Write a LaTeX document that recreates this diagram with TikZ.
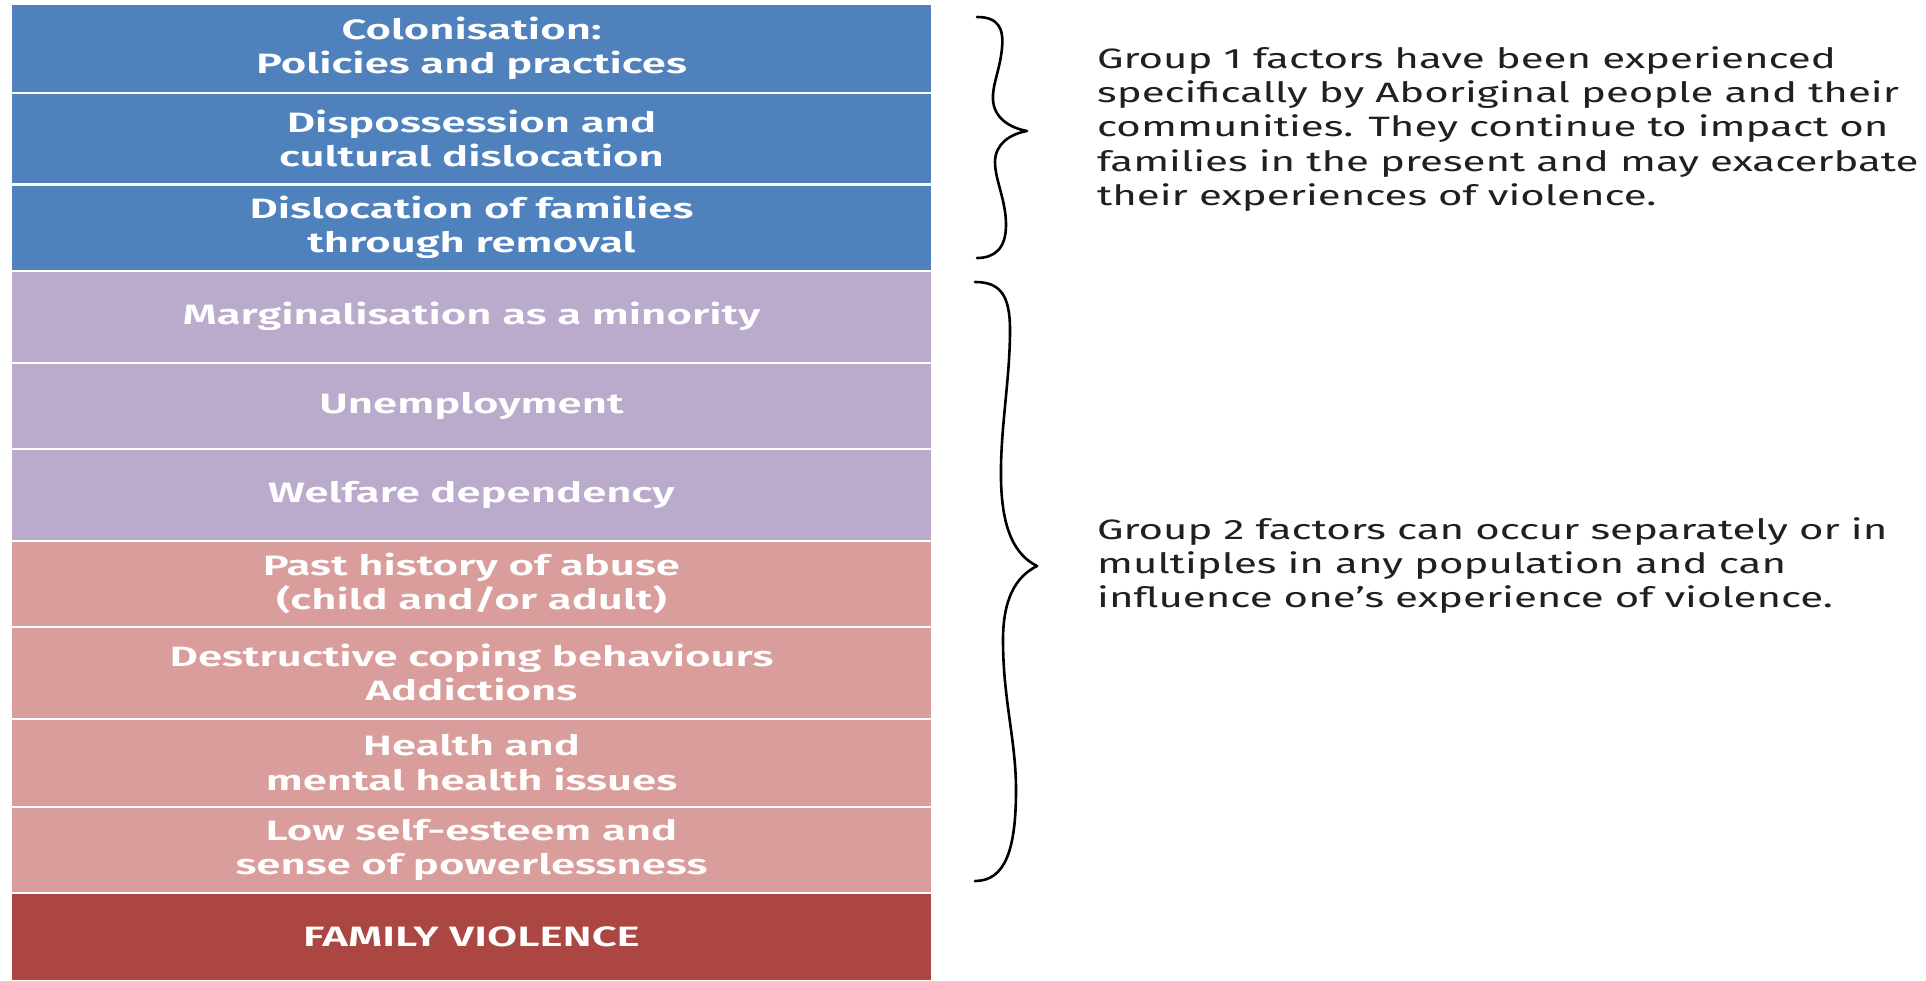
\documentclass[tikz,border=0pt]{standalone}
\usepackage{fontspec}
\newfontfamily\boxfont{Fira Sans SemiBold}[FakeStretch=1.56]
\newfontfamily\notefont{Fira Sans}[FakeStretch=1.50]
\definecolor{cblue}{HTML}{4F81BD}
\definecolor{cpurple}{HTML}{BAAACB}
\definecolor{cpink}{HTML}{D99E9C}
\definecolor{cdark}{HTML}{AB4642}
\definecolor{ctext}{HTML}{231F20}
\tikzset{
  layer/.style={draw=none, minimum width=919pt, inner sep=0pt, align=center,
    text=white, font=\boxfont\fontsize{28}{34.4}\selectfont},
  note/.style={anchor=west, inner sep=0pt, align=left, text=ctext,
    font=\notefont\fontsize{28}{34.4}\selectfont},
  bracestyle/.style={draw=black, line width=2.6pt, line cap=round, line join=round}
}
\begin{document}
\begin{tikzpicture}[x=1pt,y=-1pt]
\useasboundingbox[fill=white] (0,0) rectangle (1926,980);
\node[layer, fill=cblue,   minimum height=86.5pt] (b1)  at (471.5,48.25) {Colonisation:\\Policies and practices};
\node[layer, fill=cblue,   minimum height=89.5pt] (b2)  at (471.5,138.25) {Dispossession and\\cultural dislocation};
\node[layer, fill=cblue,   minimum height=84pt]   (b3)  at (471.5,227.5) {Dislocation of families\\through removal};
\node[layer, fill=cpurple, minimum height=90pt]   (b4)  at (471.5,316.5) {Marginalisation as a minority};
\node[layer, fill=cpurple, minimum height=84pt]   (b5)  at (471.5,405.5) {Unemployment};
\node[layer, fill=cpurple, minimum height=90pt]   (b6)  at (471.5,494.5) {Welfare dependency};
\node[layer, fill=cpink,   minimum height=84pt]   (b7)  at (471.5,583.5) {Past history of abuse\\(child and/or adult)};
\node[layer, fill=cpink,   minimum height=90pt]   (b8)  at (471.5,672.5) {Destructive coping behaviours\\Addictions};
\node[layer, fill=cpink,   minimum height=86.5pt] (b9)  at (471.5,762.75) {Health and\\mental health issues};
\node[layer, fill=cpink,   minimum height=84pt]   (b10) at (471.5,850) {Low self-esteem and\\sense of powerlessness};
\node[layer, fill=cdark,   minimum height=86pt]   (b11) at (471.5,937) {FAMILY VIOLENCE};

\draw[bracestyle] (977,17) .. controls (998,17) and (1004,28) .. (1002,48)
  .. controls (1000,70) and (992,85) .. (993,100)
  .. controls (994,118) and (1010,128) .. (1027,131)
  .. controls (1010,134) and (995,144) .. (995,162)
  .. controls (995,180) and (1006,200) .. (1006,225)
  .. controls (1006,248) and (995,258) .. (977,258);

\draw[bracestyle] (975,282) .. controls (1000,282) and (1010,295) .. (1010,330)
  .. controls (1010,380) and (1000,430) .. (1001,480)
  .. controls (1002,530) and (1015,555) .. (1037,566)
  .. controls (1015,577) and (1003,600) .. (1003,640)
  .. controls (1003,700) and (1016,740) .. (1016,790)
  .. controls (1016,850) and (1005,881) .. (975,881);

\node[note] (g1) at (1097,129) {Group 1 factors have been experienced\\specifically by Aboriginal people and their\\communities. They continue to impact on\\families in the present and may exacerbate\\their experiences of violence.};
\node[note] (g2) at (1097,565.5) {Group 2 factors can occur separately or in\\multiples in any population and can\\influence one’s experience of violence.};
\end{tikzpicture}
\end{document}
